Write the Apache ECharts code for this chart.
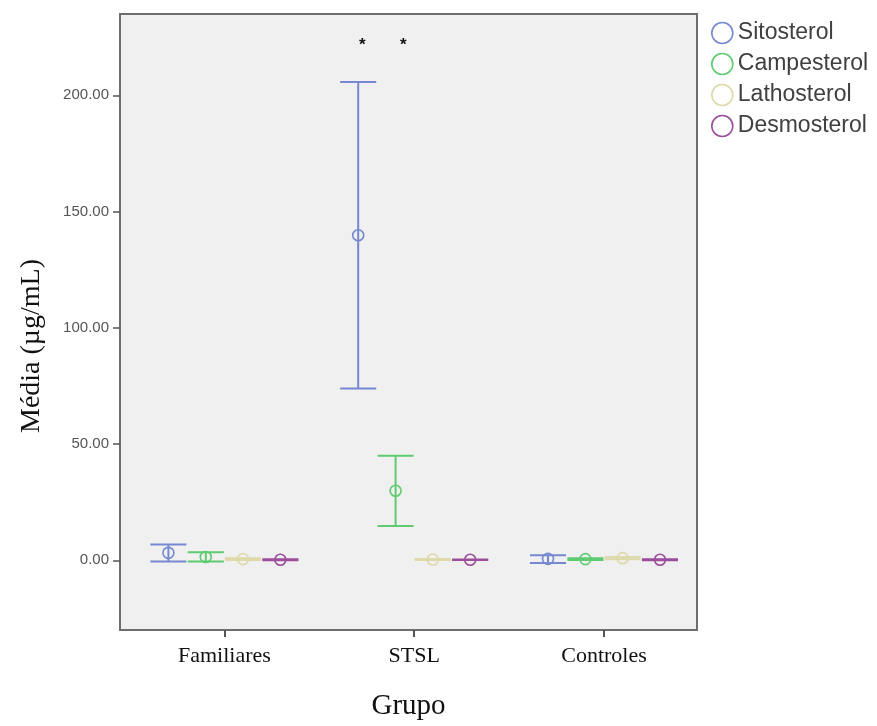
<!DOCTYPE html>
<html>
<head>
<meta charset="utf-8">
<script src="https://cdn.jsdelivr.net/npm/echarts@6/dist/echarts.min.js"></script>
<style>
html,body{margin:0;padding:0;background:#ffffff;}
#chart{width:877px;height:726px;}
</style>
</head>
<body>
<div id="chart"></div>
<script>
// ---- data ----
const categories = ['Familiares', 'STSL', 'Controles'];
const seriesNames = ['Sitosterol', 'Campesterol', 'Lathosterol', 'Desmosterol'];

const sitosterolMean = [3.2, 139.8, 0.6];
const sitosterolLow  = [-0.5, 73.9, -1.2];
const sitosterolHigh = [6.8, 205.7, 2.2];

const campesterolMean = [1.4, 29.9, 0.5];
const campesterolLow  = [-0.5, 14.7, 0.1];
const campesterolHigh = [3.4, 45.0, 0.9];

const lathosterolMean = [0.5, 0.3, 0.9];
const lathosterolLow  = [0.1, 0.1, 0.4];
const lathosterolHigh = [0.9, 0.5, 1.4];

const desmosterolMean = [0.2, 0.2, 0.2];
const desmosterolLow  = [0.0, 0.1, 0.0];
const desmosterolHigh = [0.4, 0.3, 0.4];

const yTickValues = [0, 50, 100, 150, 200];
const xTickValues = [0, 1, 2];
// significance markers: [x (category units), y value]
const asterisks = [[0.726, 221.5], [0.942, 221.5]];

// ---- styling ----
const colors = ['#7688d0', '#5fcb70', '#ddd9a8', '#9c4e9d'];
const offsets = [-0.295, -0.098, 0.098, 0.295];
const capHalf = 0.095;

const means = [sitosterolMean, campesterolMean, lathosterolMean, desmosterolMean];
const lows = [sitosterolLow, campesterolLow, lathosterolLow, desmosterolLow];
const highs = [sitosterolHigh, campesterolHigh, lathosterolHigh, desmosterolHigh];

function makeSeries(si) {
  const data = categories.map((c, ci) => [ci, lows[si][ci], means[si][ci], highs[si][ci]]);
  return {
    name: seriesNames[si],
    type: 'custom',
    color: colors[si],
    data: data,
    encode: { x: 0, y: [1, 2, 3] },
    renderItem: function (params, api) {
      const x = api.value(0);
      const band = api.size([1, 0])[0];
      const dx = offsets[si] * band;
      const hw = capHalf * band;
      const pLo = api.coord([x, api.value(1)]);
      const pM = api.coord([x, api.value(2)]);
      const pHi = api.coord([x, api.value(3)]);
      const cx = pM[0] + dx;
      const ls = { stroke: colors[si], lineWidth: 2 };
      return {
        type: 'group',
        children: [
          { type: 'line', shape: { x1: cx, y1: pHi[1], x2: cx, y2: pLo[1] }, style: ls },
          { type: 'line', shape: { x1: cx - hw, y1: pHi[1], x2: cx + hw, y2: pHi[1] }, style: ls },
          { type: 'line', shape: { x1: cx - hw, y1: pLo[1], x2: cx + hw, y2: pLo[1] }, style: ls },
          { type: 'circle', shape: { cx: cx, cy: pM[1], r: 5.5 },
            style: { fill: 'rgba(0,0,0,0)', stroke: colors[si], lineWidth: 1.6 } }
        ]
      };
    }
  };
}

const series = seriesNames.map((n, i) => makeSeries(i));
series.push({
  type: 'custom',
  silent: true,
  data: asterisks,
  renderItem: function (params, api) {
    const p = api.coord([api.value(0), api.value(1)]);
    return {
      type: 'text',
      style: { x: p[0], y: p[1], text: '*', fill: '#111', font: 'bold 17px "Liberation Sans", Arial',
               align: 'center', verticalAlign: 'middle' }
    };
  }
});

const chart = echarts.init(document.getElementById('chart'), null, { renderer: 'canvas' });
chart.setOption({
  backgroundColor: '#ffffff',
  animation: false,
  grid: {
    left: 120, top: 14, right: 180, bottom: 94,
    show: true, backgroundColor: '#f0f0f0', borderColor: '#6e6e6e', borderWidth: 2
  },
  legend: {
    orient: 'vertical',
    left: 706, top: 16,
    itemWidth: 21, itemHeight: 21, itemGap: 7,
    icon: 'circle',
    textStyle: { fontFamily: '"Liberation Sans", Arial, sans-serif', fontSize: 23, lineHeight: 24, color: '#404040' },
    data: seriesNames.map((n, i) => ({
      name: n,
      itemStyle: { color: 'rgba(255,255,255,0)', borderColor: colors[i], borderWidth: 1.6 }
    }))
  },
  xAxis: {
    type: 'value',
    min: -0.55, max: 2.49,
    name: 'Grupo',
    nameLocation: 'middle',
    nameGap: 62,
    nameTextStyle: { fontFamily: '"Liberation Serif", "Times New Roman", serif', fontSize: 29, color: '#111' },
    splitLine: { show: false },
    axisLine: { show: true, onZero: false, lineStyle: { color: '#6e6e6e', width: 2 } },
    axisTick: { show: true, customValues: xTickValues, length: 7, lineStyle: { color: '#555', width: 2 } },
    axisLabel: {
      customValues: xTickValues,
      margin: 15,
      formatter: v => categories[Math.round(v)] || '',
      fontFamily: '"Liberation Serif", "Times New Roman", serif', fontSize: 22, color: '#111'
    }
  },
  yAxis: {
    type: 'value',
    min: -30, max: 235,
    name: 'Média (µg/mL)',
    nameLocation: 'middle',
    nameGap: 74,
    nameTextStyle: { fontFamily: '"Liberation Serif", "Times New Roman", serif', fontSize: 28, color: '#111', padding: [0, 48, 0, 0] },
    splitLine: { show: false },
    axisLine: { show: true, onZero: false, lineStyle: { color: '#6e6e6e', width: 2 } },
    axisTick: { show: true, customValues: yTickValues, length: 7, lineStyle: { color: '#555', width: 1.5 } },
    axisLabel: {
      customValues: yTickValues,
      margin: 11,
      formatter: v => v.toFixed(2),
      fontFamily: '"Liberation Sans", Arial, sans-serif', fontSize: 15, color: '#555'
    }
  },
  series: series
});
</script>
</body>
</html>
